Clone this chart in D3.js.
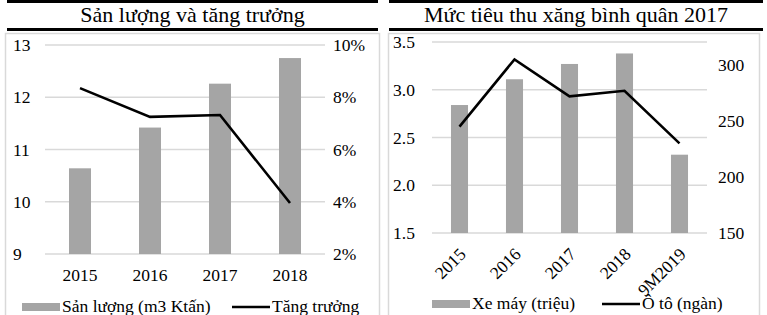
<!DOCTYPE html>
<html><head><meta charset="utf-8">
<script src="https://cdn.jsdelivr.net/npm/d3@7"></script>
<style>
html,body{margin:0;padding:0;background:#fff;}
svg{display:block;}
svg text{font-family:"Liberation Serif","Times New Roman",serif !important;fill:#000;}
</style></head>
<body><svg id="c" width="767" height="315"></svg>
<script>
// Left chart data
const years1 = ["2015","2016","2017","2018"];
const sanLuong = [10.64, 11.42, 12.26, 12.75];
const tangTruong = [0.0835, 0.0725, 0.0732, 0.0395];
const leftTicks1 = [9,10,11,12,13];
const rightTicks1 = [0.02,0.04,0.06,0.08,0.10];

// Right chart data
const years2 = ["2015","2016","2017","2018","9M2019"];
const xeMay = [2.84, 3.11, 3.27, 3.38, 2.32];
const oTo = [245, 305, 272, 277, 230];
const leftTicks2 = [1.5,2.0,2.5,3.0,3.5];
const rightTicks2 = [150,200,250,300];

const svg = d3.select("#c");
const BAR = "#a5a5a5", GRID = "#d9d9d9";
const FS = 17.5;

function panel(o){
  const g = svg.append("g");
  g.append("rect").attr("x",o.hx0).attr("y",0).attr("width",o.hx1-o.hx0).attr("height",3).attr("fill","#000");
  g.append("rect").attr("x",o.hx0).attr("y",28).attr("width",o.hx1-o.hx0).attr("height",3).attr("fill","#000");
  g.append("text").attr("x",(o.hx0+o.hx1)/2).attr("y",22).attr("text-anchor","middle")
    .style("font-size","22px").text(o.title);
  g.append("rect").attr("x",o.bx0+0.5).attr("y",33.5).attr("width",o.bx1-o.bx0).attr("height",300)
    .attr("fill","none").attr("stroke",GRID).attr("stroke-width",1.5);

  const x = d3.scaleBand().domain(o.cats).range([o.px0,o.px1]).paddingInner(o.pad).paddingOuter(o.pad/2);
  const yL = d3.scaleLinear().domain(o.yLd).range([o.py1,o.py0]);
  const yR = d3.scaleLinear().domain(o.yRd).range([o.py1,o.py0]);

  g.append("g").selectAll("line").data(o.lt).join("line")
    .attr("x1",o.px0).attr("x2",o.px1).attr("y1",d=>yL(d)).attr("y2",d=>yL(d))
    .attr("stroke",GRID).attr("stroke-width",1.3);

  const ax = d3.axisLeft(yL).tickValues(o.lt).tickFormat(o.lf).tickSize(0).tickPadding(0);
  const ga = g.append("g").attr("transform",`translate(${o.lx},0)`).call(ax);
  ga.select(".domain").remove();
  ga.selectAll("text").style("font-size",FS+"px").attr("text-anchor","start").attr("x",0);

  const ar = d3.axisRight(yR).tickValues(o.rt).tickFormat(o.rf).tickSize(0).tickPadding(0);
  const gr = g.append("g").attr("transform",`translate(${o.rx},0)`).call(ar);
  gr.select(".domain").remove();
  gr.selectAll("text").style("font-size",FS+"px");

  g.append("g").selectAll("rect").data(o.bars).join("rect")
    .attr("x",(d,i)=>x(o.cats[i])).attr("width",x.bandwidth())
    .attr("y",d=>yL(d)).attr("height",d=>yL(o.yLd[0])-yL(d)).attr("fill",BAR);

  const line = d3.line().x((d,i)=>x(o.cats[i])+x.bandwidth()/2).y(d=>yR(d));
  g.append("path").datum(o.line).attr("d",line).attr("fill","none").attr("stroke","#000")
    .attr("stroke-width",2.6).attr("stroke-linejoin","miter");

  const xa = d3.axisBottom(x).tickSize(0).tickPadding(0);
  const gx = g.append("g").attr("transform",`translate(0,${o.xy})`).call(xa);
  gx.select(".domain").remove();
  gx.selectAll("text").style("font-size",FS+"px");
  if(o.rot){
    gx.selectAll("text").attr("text-anchor","end").attr("dy","0.35em").attr("y",0).attr("x",0)
      .attr("transform","translate(3,0) rotate(-45)");
  } else {
    gx.selectAll("text").attr("dy","0.71em").attr("y",0);
  }

  const lg = g.append("g");
  lg.append("rect").attr("x",o.lg[0]).attr("y",o.lgy-4).attr("width",38).attr("height",8).attr("fill",BAR);
  lg.append("text").attr("x",o.lg[0]+40).attr("y",o.lgy+5).style("font-size",FS+"px").text(o.names[0]);
  lg.append("line").attr("x1",o.lg[1]).attr("x2",o.lg[1]+38).attr("y1",o.lgy).attr("y2",o.lgy)
    .attr("stroke","#000").attr("stroke-width",2.6);
  lg.append("text").attr("x",o.lg[1]+40).attr("y",o.lgy+5).style("font-size",FS+"px").text(o.names[1]);
}

panel({
  title:"Sản lượng và tăng trưởng", hx0:7, hx1:378, bx0:5, bx1:379,
  cats:years1, px0:45, px1:325, py0:45, py1:254, pad:0.686,
  yLd:[9,13], yRd:[0.02,0.10], lt:leftTicks1, rt:rightTicks1,
  lf:d3.format("d"), rf:d3.format(".0%"), lx:13, rx:333,
  bars:sanLuong, line:tangTruong, xy:269, rot:false,
  lg:[22,232], lgy:307, names:["Sản lượng (m3 Ktấn)","Tăng trưởng"]
});
panel({
  title:"Mức tiêu thu xăng bình quân 2017", hx0:389, hx1:763, bx0:388, bx1:759,
  cats:years2, px0:432, px1:707, py0:42, py1:233, pad:0.69,
  yLd:[1.5,3.5], yRd:[150,320.5], lt:leftTicks2, rt:rightTicks2,
  lf:d3.format(".1f"), rf:d3.format("d"), lx:393, rx:718,
  bars:xeMay, line:oTo, xy:251, rot:true,
  lg:[432,602], lgy:304, names:["Xe máy (triệu)","Ô tô (ngàn)"]
});
</script></body></html>
